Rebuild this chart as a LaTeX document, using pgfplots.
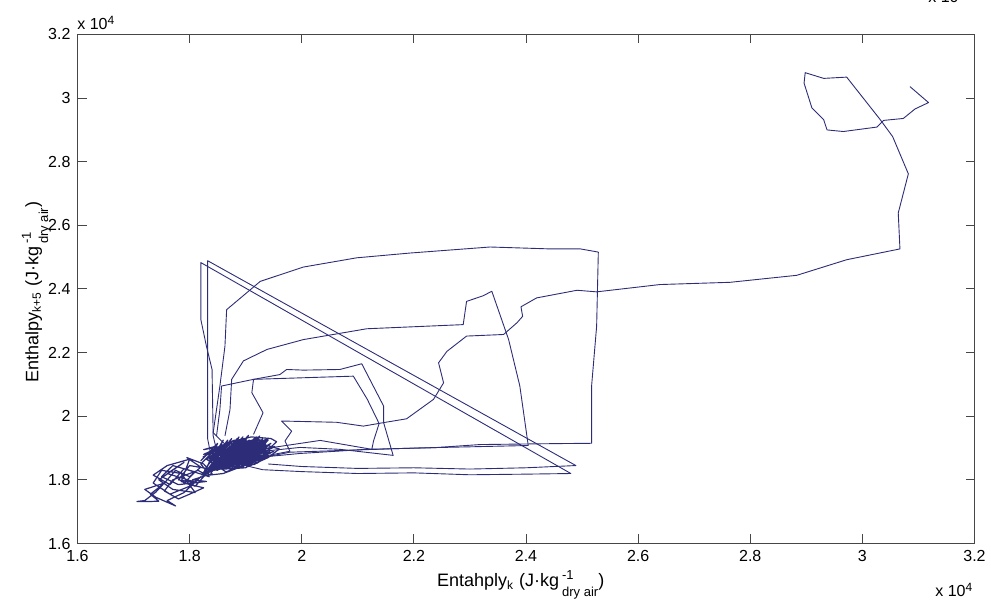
\documentclass[border=0pt]{standalone}
\usepackage{pgfplots}
\pgfplotsset{compat=1.18}
\usepackage{fontspec}
\setmainfont{Liberation Sans}
\definecolor{traj}{RGB}{44,44,120}
\definecolor{axgray}{RGB}{70,70,70}
\newcommand{\unitlab}{(J·kg\,\rlap{\raisebox{3.8pt}{\fontsize{6.5}{7}\selectfont -1}}\raisebox{-4.8pt}{\fontsize{6.5}{7}\selectfont dry air})}
\begin{document}
\begin{tikzpicture}
\useasboundingbox (-38.75pt,-30.25pt) rectangle (456.75pt,271.75pt);
\begin{axis}[
  at={(0,0)}, anchor=south west,
  width=448.5pt, height=254.5pt, scale only axis,
  xmin=1.6, xmax=3.2, ymin=1.6, ymax=3.2,
  xtick={1.6,1.8,...,3.21}, ytick={1.6,1.8,...,3.21},
  xticklabels={1.6,1.8,2,2.2,2.4,2.6,2.8,3,3.2},
  yticklabels={1.6,1.8,2,2.2,2.4,2.6,2.8,3,3.2},
  /pgf/number format/assume math mode=true,
  tick label style={font=\fontsize{8}{9.5}\selectfont, text=black},
  major tick length=4.5pt,
  tick style={axgray, line width=0.5pt},
  axis line style={axgray, line width=0.5pt},
  tick align=inside,
  trajstyle/.style={traj, solid, mark=none, line width=0.45pt, line join=round},
]
% tail and dense cluster
\addplot[trajstyle, line width=0.6pt] coordinates {
(1.85,1.83) (1.80,1.845) (1.78,1.80) (1.815,1.79) (1.76,1.82) (1.79,1.855) (1.745,1.80) (1.77,1.77)
(1.81,1.76) (1.785,1.82) (1.75,1.83) (1.735,1.79) (1.765,1.755) (1.80,1.78) (1.82,1.81) (1.79,1.76)
(1.76,1.735) (1.775,1.718) (1.74,1.745) (1.72,1.77) (1.755,1.79) (1.73,1.755) (1.745,1.733) (1.728,1.732)
(1.706,1.732) (1.72,1.735) (1.74,1.762) (1.76,1.80) (1.775,1.83) (1.80,1.81) (1.82,1.84) (1.795,1.87)
(1.825,1.85) (1.84,1.82) (1.805,1.80) (1.83,1.795) (1.78,1.785) (1.75,1.81) (1.77,1.845) (1.81,1.825)
(1.79,1.79) (1.825,1.775) (1.80,1.755) (1.78,1.74) (1.755,1.765) (1.77,1.80) (1.815,1.83) (1.835,1.81)
(1.79,1.835) (1.765,1.785) (1.735,1.815) (1.76,1.845) (1.8,1.865) (1.785,1.795) (1.81,1.78) (1.83,1.82)
(1.862,1.848) (1.905,1.878) (1.884,1.905) (1.851,1.862) (1.896,1.872) (1.872,1.895) (1.918,1.912) (1.88,1.862)
(1.845,1.872) (1.902,1.899) (1.868,1.845) (1.924,1.894) (1.89,1.918) (1.858,1.88) (1.912,1.872) (1.876,1.852)
(1.838,1.848) (1.889,1.89) (1.926,1.922) (1.898,1.868) (1.866,1.887) (1.919,1.9) (1.884,1.874) (1.847,1.84)
(1.894,1.908) (1.932,1.902) (1.906,1.925) (1.872,1.872) (1.835,1.83) (1.879,1.858) (1.915,1.889) (1.862,1.897)
(1.895,1.855) (1.929,1.915) (1.87,1.906) (1.908,1.862) (1.853,1.85) (1.887,1.896) (1.938,1.928) (1.912,1.894)
(1.877,1.88) (1.843,1.858) (1.899,1.884) (1.864,1.862) (1.922,1.905) (1.893,1.93) (1.857,1.873) (1.911,1.916)
(1.883,1.85) (1.84,1.836) (1.871,1.88) (1.93,1.89) (1.901,1.912) (1.867,1.866) (1.922,1.878) (1.886,1.9)
(1.848,1.855) (1.905,1.868) (1.875,1.91) (1.935,1.918) (1.897,1.877) (1.852,1.843) (1.882,1.884) (1.916,1.927)
(1.88,1.896) (1.908,1.852) (1.86,1.868) (1.925,1.9) (1.89,1.878) (1.836,1.842) (1.874,1.86) (1.902,1.905)
(1.869,1.892) (1.94,1.925) (1.914,1.88) (1.878,1.868) (1.846,1.866) (1.892,1.86) (1.918,1.92) (1.884,1.912)
(1.864,1.855) (1.91,1.89) (1.873,1.84) (1.831,1.826) (1.866,1.86) (1.9,1.878) (1.927,1.905) (1.892,1.922)
(1.87,1.878) (1.904,1.858) (1.856,1.858) (1.888,1.908) (1.933,1.91) (1.897,1.89) (1.855,1.87) (1.878,1.836)
(1.913,1.873) (1.896,1.915) (1.861,1.884) (1.92,1.89) (1.885,1.857) (1.842,1.852) (1.881,1.89) (1.924,1.928)
(1.907,1.9) (1.872,1.86) (1.85,1.835) (1.895,1.87) (1.868,1.9) (1.916,1.905) (1.936,1.895) (1.9,1.862)
(1.858,1.848) (1.89,1.888) (1.917,1.915) (1.876,1.89) (1.905,1.875) (1.862,1.872) (1.838,1.84) (1.884,1.842)
(1.909,1.884) (1.887,1.918) (1.93,1.926) (1.903,1.88) (1.871,1.855) (1.92,1.875) (1.894,1.905) (1.85,1.88)
(1.88,1.872) (1.952,1.905) (1.915,1.87) (1.945,1.885) (1.9,1.85) (1.865,1.825) (1.83,1.865) (1.855,1.895)
(1.825,1.88) (1.87,1.918) (1.91,1.935) (1.945,1.93) (1.955,1.92) (1.92,1.86) (1.89,1.84) (1.86,1.82)
(1.835,1.815) (1.82,1.85) (1.848,1.9) (1.88,1.925) (1.925,1.915) (1.96,1.897) (1.94,1.87) (1.905,1.842)
(1.873,1.868) (1.912,1.898) (1.868,1.872) (1.903,1.91) (1.859,1.862) (1.897,1.894) (1.928,1.913) (1.884,1.883)
(1.852,1.866) (1.893,1.876) (1.867,1.849) (1.909,1.867) (1.879,1.9) (1.921,1.899) (1.885,1.862) (1.849,1.848)
(1.89,1.864) (1.914,1.908) (1.875,1.898) (1.899,1.872) (1.862,1.88) (1.907,1.89) (1.882,1.856) (1.92,1.885)
(1.844,1.845) (1.887,1.87) (1.861,1.89) (1.902,1.886) (1.876,1.861) (1.923,1.911) (1.893,1.899) (1.856,1.852)
(1.898,1.864) (1.881,1.906) (1.911,1.88) (1.869,1.866) (1.934,1.92) (1.905,1.905) (1.873,1.849) (1.84,1.83)
(1.879,1.875) (1.915,1.897) (1.888,1.883) (1.863,1.868) (1.9,1.9) (1.928,1.898) (1.891,1.869) (1.853,1.858)
(1.895,1.893) (1.871,1.884) (1.918,1.892) (1.886,1.866) (1.847,1.862) (1.877,1.889) (1.91,1.913) (1.883,1.877)
(1.822,1.815) (1.86,1.925) (1.835,1.83) (1.885,1.93) (1.85,1.83) (1.905,1.94) (1.87,1.835) (1.925,1.938)
(1.895,1.84) (1.94,1.93) (1.915,1.848) (1.94,1.875) (1.90,1.845) (1.93,1.92) (1.88,1.838) (1.915,1.93)
(1.86,1.832) (1.895,1.935) (1.84,1.826) (1.875,1.93) (1.826,1.82) (1.85,1.915) (1.82,1.86) (1.845,1.905)
(1.825,1.895) (1.87,1.91) (1.835,1.865) (1.89,1.92) (1.842,1.84) (1.9,1.925) (1.857,1.838) (1.92,1.935)
(1.878,1.845) (1.935,1.91) (1.902,1.852) (1.943,1.89) (1.92,1.852) (1.935,1.87) (1.892,1.848) (1.91,1.925)
(1.865,1.84) (1.888,1.935) (1.846,1.835) (1.868,1.925) (1.83,1.84) (1.858,1.91) (1.824,1.872) (1.876,1.92)
(1.838,1.858) (1.896,1.928) (1.851,1.847) (1.912,1.92) (1.87,1.85) (1.93,1.928) (1.886,1.855) (1.945,1.915)
(1.908,1.86) (1.95,1.89) (1.922,1.865) (1.9,1.838) (1.862,1.834) (1.84,1.878) (1.868,1.912) (1.9,1.918)
};
% triangle A
\addplot[trajstyle] coordinates {(1.85,1.88) (1.842,1.938) (1.840,2.147) (1.830,2.220) (1.820,2.304) (1.820,2.483)
 (2.480,1.820) (2.40,1.818) (2.30,1.816) (2.20,1.822) (2.10,1.820) (2.00,1.826) (1.93,1.832) (1.90,1.845)};
% triangle B
\addplot[trajstyle] coordinates {(1.84,1.86) (1.832,1.93) (1.832,2.489) (2.489,1.845) (2.40,1.838) (2.30,1.834)
 (2.20,1.838) (2.10,1.836) (2.00,1.842) (1.94,1.85)};
% big rectangle
\addplot[trajstyle] coordinates {(1.87,1.90) (1.842,1.948) (1.854,2.095) (1.863,2.220) (1.866,2.335) (1.926,2.424)
 (2.003,2.469) (2.098,2.498) (2.193,2.513) (2.336,2.532) (2.443,2.526) (2.497,2.526) (2.529,2.516)
 (2.526,2.283) (2.517,2.095) (2.517,1.915) (2.455,1.914) (2.318,1.911) (2.235,1.901) (2.116,1.896)
 (1.997,1.883) (1.949,1.875) (1.92,1.87)};
% middle curve to x=2.4
\addplot[trajstyle] coordinates {(1.863,1.938) (1.872,2.021) (1.875,2.116) (1.896,2.174) (1.938,2.210) (2.003,2.241)
 (2.116,2.275) (2.288,2.288) (2.294,2.361) (2.324,2.379) (2.339,2.393) (2.369,2.241) (2.389,2.095)
 (2.404,1.908) (2.20,1.900) (1.979,1.887) (1.93,1.87)};
% path to the upper right
\addplot[trajstyle] coordinates {(1.92,1.87) (1.979,1.890) (1.970,1.922) (1.982,1.953) (1.964,1.985) (2.062,1.981)
 (2.110,1.969) (2.146,1.980) (2.187,1.992) (2.235,2.053) (2.253,2.105) (2.244,2.168) (2.259,2.204)
 (2.294,2.252) (2.360,2.257) (2.384,2.294) (2.394,2.314) (2.391,2.344) (2.419,2.372) (2.491,2.396)
 (2.526,2.391) (2.639,2.414) (2.764,2.421) (2.883,2.443) (2.972,2.492) (3.067,2.526) (3.064,2.639)
 (3.082,2.762) (3.054,2.879) (3.032,2.932) (2.972,3.066) (2.931,3.062) (2.898,3.080) (2.896,3.047)
 (2.910,2.969) (2.931,2.932) (2.937,2.900) (2.966,2.895) (3.026,2.909) (3.038,2.930) (3.073,2.936)
 (3.094,2.966) (3.118,2.986) (3.085,3.036)};
% inner loop 1
\addplot[trajstyle] coordinates {(1.848,1.938) (1.854,2.021) (1.857,2.095) (1.914,2.116) (1.961,2.131) (1.973,2.147)
 (2.003,2.145) (2.068,2.147) (2.107,2.165) (2.146,2.032) (2.146,1.980) (2.163,1.877) (2.068,1.896)
 (1.997,1.902) (1.926,1.889)};
% inner loop 2
\addplot[trajstyle] coordinates {(1.914,1.943) (1.931,2.011) (1.911,2.074) (1.914,2.116) (2.092,2.126) (2.117,2.053)
 (2.138,1.977) (2.128,1.922) (2.125,1.896) (2.033,1.924) (1.926,1.896)};
\end{axis}
\node[anchor=base west, font=\fontsize{8}{9.5}\selectfont, inner sep=0pt] at (-0.25pt,256.75pt) {x 10\textsuperscript{4}};
\node[anchor=base west, font=\fontsize{8}{9.5}\selectfont, inner sep=0pt] at (428.75pt,-26.75pt) {x 10\textsuperscript{4}};
\node[anchor=base west, font=\fontsize{8}{9.5}\selectfont, inner sep=0pt] at (425.25pt,270.5pt) {x 10\textsuperscript{4}};
\node[anchor=base west, font=\fontsize{9}{11}\selectfont, inner sep=0pt] at (179.6pt,-21.75pt)
  {Entahply\textsubscript{k} \unitlab};
\node[anchor=base west, rotate=90, font=\fontsize{9}{11}\selectfont, inner sep=0pt] at (-19.5pt,80.25pt)
  {Enthalpy\textsubscript{k+5} \unitlab};
\end{tikzpicture}
\end{document}
